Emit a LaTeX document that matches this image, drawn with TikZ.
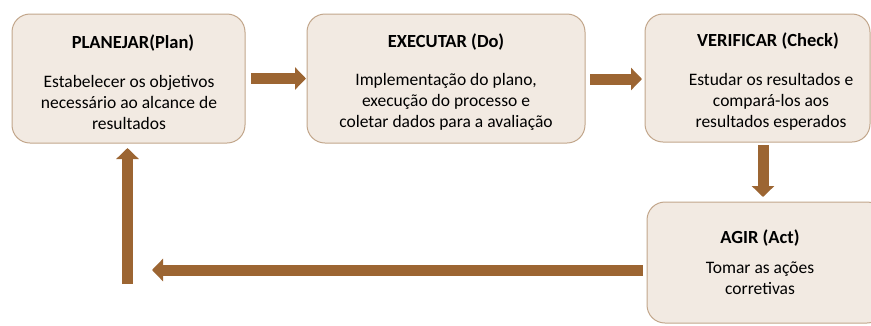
\documentclass[tikz,border=0pt]{standalone}
\usepackage{fontspec}
\setmainfont{Carlito}
\usetikzlibrary{arrows.meta}
\definecolor{boxfill}{HTML}{F2EAE2}
\definecolor{boxline}{HTML}{C2A68B}
\definecolor{arrowc}{HTML}{9C6532}
\tikzset{
  stage/.style={draw=boxline, line width=1pt, fill=boxfill, rounded corners=18pt, inner sep=0pt},
  ttl/.style={font=\fontsize{18.5}{21}\selectfont\bfseries, inner sep=0pt},
  body/.style={font=\fontsize{17.5}{21}\selectfont, align=center, inner sep=0pt},
  flow/.style={draw=arrowc, line width=11pt, -{Triangle[width=22pt,length=11pt]}}
}
\begin{document}
\begin{tikzpicture}[x=1pt,y=-1pt]
\useasboundingbox (0,0) rectangle (871,325);
% boxes
\draw[stage] (12,14) rectangle (245,143) node[pos=0.5, inner sep=0pt] (b1) {};
\draw[stage] (307,14) rectangle (585,143) node[pos=0.5, inner sep=0pt] (b2) {};
\draw[stage] (645,14) rectangle (870,142) node[pos=0.5, inner sep=0pt] (b3) {};
\draw[stage] (647,202) rectangle (885,323) node[pos=0.5, inner sep=0pt] (b4) {};
% texts
\node[ttl] (t1) at (133,43) {PLANEJAR(Plan)};
\node[body] (d1) at (129,102) {Estabelecer os objetivos\\necessário ao alcance de\\resultados};
\node[ttl] (t2) at (446,42) {EXECUTAR (Do)};
\node[body] (d2) at (446,102) {Implementação do plano,\\execução do processo e\\coletar dados para a avaliação};
\node[ttl] (t3) at (768,41) {VERIFICAR (Check)};
\node[body] (d3) at (771,102) {Estudar os resultados e\\compará-los aos\\resultados esperados};
\node[ttl] (t4) at (760,238) {AGIR (Act)};
\node[body] (d4) at (760,278) {Tomar as ações\\corretivas};
% connector anchor points
\coordinate (a1s) at (251,78.5);
\coordinate (a1e) at (306,78.5);
\coordinate (a2s) at (590,79);
\coordinate (a2e) at (642,79);
\coordinate (a3s) at (763,145);
\coordinate (a3e) at (763,197);
\coordinate (a4s) at (643,270);
\coordinate (a4e) at (152,270);
\coordinate (a5s) at (127.5,284);
\coordinate (a5e) at (127.5,148);
\draw[flow] (a1s) -- (a1e);
\draw[flow] (a2s) -- (a2e);
\draw[flow] (a3s) -- (a3e);
\draw[flow] (a4s) -- (a4e);
\draw[flow] (a5s) -- (a5e);
\end{tikzpicture}
\end{document}
